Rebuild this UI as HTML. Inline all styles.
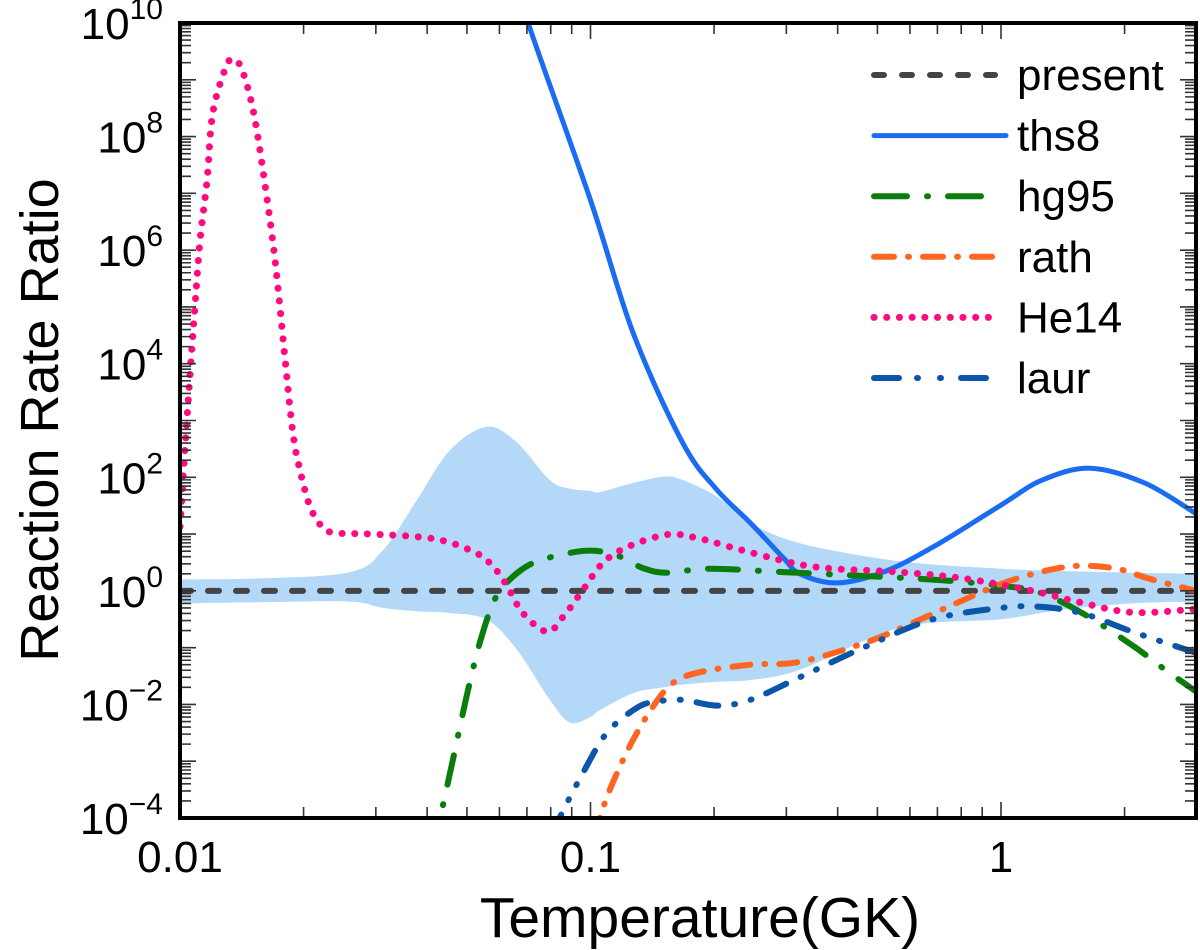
<!DOCTYPE html>
<html><head><meta charset="utf-8"><style>
html,body{margin:0;padding:0;background:#fff;}
svg{display:block;font-family:"Liberation Sans",Arial,sans-serif;}
</style></head><body>
<svg id="chart" width="1200" height="950" viewBox="0 0 1200 950">
<defs><clipPath id="plotclip"><rect x="180" y="23" width="1016" height="795"/></clipPath></defs>
<g id="plot" clip-path="url(#plotclip)"></g>
<g id="axes"></g>
<g id="legend"></g>
</svg>
<script>
// ---- data (log10 T, log10 ratio) ----
const bandLogT = [-2.0,-1.8,-1.586,-1.505,-1.423,-1.342,-1.252,-1.179,-1.099,-1.05,-1.0,-0.977,-0.896,-0.823,-0.775,-0.692,-0.611,-0.49,-0.246,0.0,0.15,0.32,0.475];
const bandUpper = [0.2,0.22,0.33,0.72,1.6,2.48,2.89,2.61,1.95,1.8,1.76,1.74,1.9,2.01,1.95,1.66,1.2,0.84,0.52,0.39,0.35,0.32,0.3];
const bandLower = [-0.22,-0.2,-0.19,-0.3,-0.36,-0.39,-0.51,-1.04,-1.92,-2.32,-2.22,-2.1,-1.8,-1.7,-1.65,-1.6,-1.57,-1.39,-0.65,-0.5,-0.33,-0.22,-0.19];

const ths8T = [-1.2,-1.152,-1.0,-0.896,-0.775,-0.692,-0.611,-0.53,-0.49,-0.4,-0.287,-0.166,0.0,0.1,0.217,0.35,0.475];
const ths8Y = [11.2,10,6.88,4.54,2.6,1.78,1.2,0.58,0.3,0.14,0.33,0.77,1.51,1.95,2.16,1.9,1.36];

const hg95T = [-1.40,-1.367,-1.342,-1.30,-1.27,-1.237,-1.205,-1.14,-1.033,-0.97,-0.92,-0.872,-0.814,-0.709,-0.53,-0.326,-0.149,0.0,0.095,0.2,0.32,0.4,0.475];
const hg95Y = [-4.6,-3.98,-3.2,-1.8,-0.92,-0.21,0.14,0.49,0.69,0.69,0.58,0.40,0.32,0.39,0.33,0.26,0.19,0.09,-0.03,-0.40,-0.96,-1.39,-1.77];

const rathT = [-0.99,-0.965,-0.935,-0.896,-0.848,-0.799,-0.733,-0.611,-0.49,-0.326,-0.205,-0.10,0.0,0.095,0.185,0.282,0.363,0.475];
const rathY = [-4.3,-3.73,-3.2,-2.62,-2.04,-1.62,-1.43,-1.30,-1.25,-0.90,-0.53,-0.19,0.12,0.33,0.44,0.39,0.21,0.0];

const laurT = [-1.09,-1.074,-1.018,-0.96,-0.887,-0.838,-0.775,-0.692,-0.611,-0.49,-0.326,-0.166,0.0,0.095,0.2,0.32,0.475];
const laurY = [-4.3,-3.98,-3.2,-2.5,-2.06,-1.95,-1.92,-2.02,-1.92,-1.52,-0.97,-0.5,-0.3,-0.28,-0.4,-0.72,-1.09];

const he14T = [-2.0,-1.988,-1.976,-1.963,-1.951,-1.934,-1.92,-1.886,-1.866,-1.847,-1.822,-1.798,-1.769,-1.744,-1.725,-1.708,-1.683,-1.654,-1.622,-1.532,-1.384,-1.294,-1.245,-1.205,-1.165,-1.106,-1.067,-1.018,-0.97,-0.911,-0.814,-0.74,-0.653,-0.507,-0.41,-0.246,-0.083,0.078,0.185,0.32,0.475];
const he14Y = [1.13,2.48,3.77,5.07,6.18,7.24,8.42,9.26,9.35,9.14,8.47,7.41,5.86,4.07,2.78,2.13,1.48,1.13,1.02,1.0,0.92,0.72,0.49,0.11,-0.39,-0.72,-0.46,0.02,0.49,0.77,0.99,0.93,0.76,0.49,0.39,0.33,0.21,0.0,-0.19,-0.38,-0.32];

const xMajor = [0.01,0.1,1];
const xLabels = ["0.01","0.1","1"];
const yMajorLabeled = [10,8,6,4,2,0,-2,-4];
const legendLabels = ["present","ths8","hg95","rath","He14","laur"];

// ---- scales ----
const X0=180,X1=1196,Y0=23,Y1=818;
const LMIN=-2,LMAX=Math.log10(3);
const dec=410.5;
function sx(lt){return X0+(lt-LMIN)*dec;}
function sy(ly){return Y1-(ly+4)*(Y1-Y0)/14;}
const NS="http://www.w3.org/2000/svg";
function mk(tag,attrs,parent){const e=document.createElementNS(NS,tag);for(const k in attrs)e.setAttribute(k,attrs[k]);parent.appendChild(e);return e;}
function smooth(pts){
  let d="M"+pts[0][0].toFixed(1)+","+pts[0][1].toFixed(1);
  for(let i=0;i<pts.length-1;i++){
    const p0=pts[Math.max(0,i-1)],p1=pts[i],p2=pts[i+1],p3=pts[Math.min(pts.length-1,i+2)];
    const c1=[p1[0]+(p2[0]-p0[0])/6,p1[1]+(p2[1]-p0[1])/6];
    const c2=[p2[0]-(p3[0]-p1[0])/6,p2[1]-(p3[1]-p1[1])/6];
    d+=" C"+c1[0].toFixed(1)+","+c1[1].toFixed(1)+" "+c2[0].toFixed(1)+","+c2[1].toFixed(1)+" "+p2[0].toFixed(1)+","+p2[1].toFixed(1);
  }
  return d;
}
function pts(T,Y){return T.map((t,i)=>[sx(t),sy(Y[i])]);}
const plot=document.getElementById('plot');
const axes=document.getElementById('axes');
const legend=document.getElementById('legend');

// band
const up=pts(bandLogT,bandUpper), lo=pts(bandLogT,bandLower).reverse();
let bd=smooth(up)+" L"+lo[0][0]+","+lo[0][1]+smooth(lo).replace(/^M[^ C]*/,"")+" Z";
const band=mk('path',{d:bd,fill:'#b4d8f8',stroke:'none'},plot);



// present
const pres=mk('line',{x1:X0,x2:X1,y1:sy(0),y2:sy(0),stroke:'#444',"stroke-width":6,"stroke-dasharray":"11 17","stroke-linecap":"round"},plot);



const series=[
 {name:'ths8-line',T:ths8T,Y:ths8Y,c:'#1a6cf0',dash:'',w:5},
 {name:'hg95-line',T:hg95T,Y:hg95Y,c:'#0a7d0a',dash:'30 20 1 20',w:6},
 {name:'rath-line',T:rathT,Y:rathY,c:'#ff6420',dash:'18 14 1 14',w:6},
 {name:'he14-line',T:he14T,Y:he14Y,c:'#ff0a80',dash:'0.1 12.6',w:7},
 {name:'laur-line',T:laurT,Y:laurY,c:'#0b56a8',dash:'22 16 1 16 1 16',w:6},
];
series.forEach(s=>{
  const p=mk('path',{d:smooth(pts(s.T,s.Y)),fill:'none',stroke:s.c,"stroke-width":s.w,"stroke-linecap":"round","stroke-dasharray":s.dash},plot);
  
  
});

// ticks
let td="";
for(let d=-2;d<=0;d++){for(let m=1;m<=9;m++){const lt=d+Math.log10(m);if(lt>LMAX)break;const x=sx(lt);const L=m===1?16:11;td+=`M${x},${Y1}v${-L}M${x},${Y0}v${L}`;}}
for(let d=-4;d<10;d++){for(let m=1;m<=9;m++){const lt=d+Math.log10(m);const y=sy(lt);const L=m===1?16:11;td+=`M${X0},${y}h${L}M${X1},${y}h${-L}`;}}
const ticks=mk('path',{d:td,stroke:'#333',"stroke-width":1.6,fill:'none'},axes);


const frame=mk('rect',{x:X0,y:Y0,width:X1-X0,height:Y1-Y0,fill:'none',stroke:'#000',"stroke-width":4},axes);



xMajor.forEach((v,i)=>{
  const t=mk('text',{x:sx(Math.log10(v)),y:872,"text-anchor":"middle","font-size":44},axes);
  t.textContent=xLabels[i];
  
  
});
yMajorLabeled.forEach(v=>{
  const t=mk('text',{x:163,y:sy(v)+16,"text-anchor":"end","font-size":44},axes);
  const a=mk('tspan',{},t);a.textContent="10";
  const b=mk('tspan',{dy:-20,"font-size":30},t);b.textContent=String(v).replace('-','\u2212');
  
  
});
const xt=mk('text',{x:700,y:937,"text-anchor":"middle","font-size":57},axes);
xt.textContent="Temperature(GK)";


const yt=mk('text',{x:0,y:0,"text-anchor":"middle","font-size":54,transform:"translate(58,420) rotate(-90)"},axes);
yt.textContent="Reaction Rate Ratio";



// legend
const lstyles=[
 {c:'#444',dash:'10 18',w:6,x2:995},
 {c:'#1a6cf0',dash:'',w:5,x2:1006},
 {c:'#0a7d0a',dash:'33 20 1 20 33',w:6,x2:985},
 {c:'#ff6420',dash:'20 14 1 14',w:6,x2:992},
 {c:'#ff0a80',dash:'0.1 12.6',w:7,x2:1000},
 {c:'#0b56a8',dash:'25 18 1 22 1 20',w:6,x2:992},
];
legendLabels.forEach((lab,i)=>{
  const y=75+i*60.6;
  const g=mk('g',{},legend);
  
  
  const s=lstyles[i];
  mk('line',{x1:874,x2:s.x2,y1:y,y2:y,stroke:s.c,"stroke-width":s.w,"stroke-linecap":"round","stroke-dasharray":s.dash},g);
  const t=mk('text',{x:1017,y:y+15,"font-size":44},g);
  t.textContent=lab;
});
</script>
</body></html>
